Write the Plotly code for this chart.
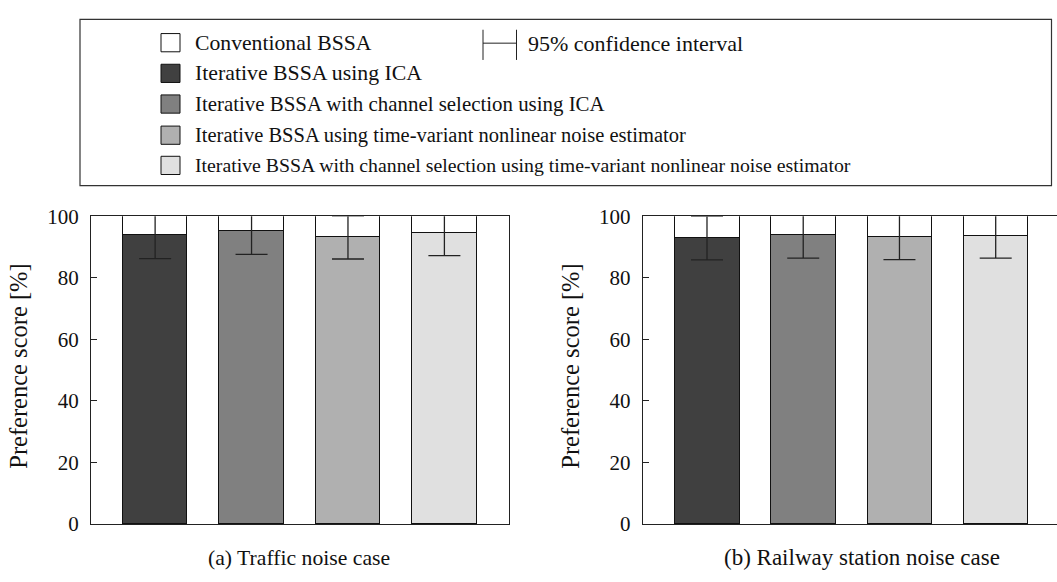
import plotly.graph_objects as go

W, H = 1057, 582

# ---- data ----
methods = [
    "Iterative BSSA using ICA",
    "Iterative BSSA with channel selection using ICA",
    "Iterative BSSA using time-variant nonlinear noise estimator",
    "Iterative BSSA with channel selection using time-variant nonlinear noise estimator",
]
baseline_name = "Conventional BSSA"
ci_name = "95% confidence interval"
traffic_scores = [93.7, 95.0, 93.1, 94.6]
traffic_ci = [7.5, 7.4, 7.0, 7.4]
railway_scores = [92.9, 93.7, 93.1, 93.4]
railway_ci = [7.1, 7.3, 7.2, 7.0]
panel_titles = ["(a) Traffic noise case", "(b) Railway station noise case"]
y_ticks = [0, 20, 40, 60, 80, 100]
y_title = "Preference score [%]"

colors = ["#404040", "#808080", "#b0b0b0", "#e0e0e0"]
FONT = "Liberation Serif"


def px(x):
    return x / W


def py(y):
    return 1 - y / H


fig = go.Figure()
xs = list(range(len(methods)))
panels = [
    (traffic_scores, traffic_ci, "x", "y"),
    (railway_scores, railway_ci, "x2", "y2"),
]
for scores, ci, xa, ya in panels:
    fig.add_trace(go.Bar(
        x=xs, y=scores, width=0.67, xaxis=xa, yaxis=ya,
        marker=dict(color=colors, line=dict(color="#111111", width=1)),
        showlegend=False, hoverinfo="skip",
    ))
    fig.add_trace(go.Bar(
        x=xs, y=[100 - s for s in scores], width=0.67, xaxis=xa, yaxis=ya,
        marker=dict(color="white", line=dict(color="#111111", width=1)),
        showlegend=False, hoverinfo="skip",
    ))
    fig.add_trace(go.Scatter(
        x=xs, y=scores, mode="markers", xaxis=xa, yaxis=ya,
        marker=dict(size=1, opacity=0),
        error_y=dict(type="data", array=ci, symmetric=True, width=16,
                     thickness=1.3, color="#222222"),
        showlegend=False, hoverinfo="skip", cliponaxis=True,
    ))

axis_common = dict(showgrid=False, zeroline=False, showline=True,
                   linecolor="#222222", linewidth=1)
plot_top, plot_bot = 213, 534
fig.update_layout(
    width=W, height=H,
    margin=dict(l=0, r=0, t=0, b=0),
    paper_bgcolor="white", plot_bgcolor="white",
    barmode="stack", bargap=0,
    font=dict(family=FONT, color="#111111", size=20),
    xaxis=dict(domain=[px(91), px(509)], range=[-0.665, 3.67],
               showticklabels=False, ticks="", mirror=True, **axis_common),
    yaxis=dict(domain=[py(plot_bot), py(plot_top)], range=[0, 100],
               tickvals=y_ticks, ticks="inside", ticklen=6, tickcolor="#222222",
               ticklabelstandoff=7,
               tickfont=dict(family=FONT, size=21), mirror=True, **axis_common),
    xaxis2=dict(domain=[px(642.7), 1], range=[-0.668, 3.637], anchor="y2",
                showticklabels=False, ticks="", mirror=True, **axis_common),
    yaxis2=dict(domain=[py(plot_bot), py(plot_top)], range=[0, 100], anchor="x2",
                tickvals=y_ticks, ticks="inside", ticklen=6, tickcolor="#222222",
                ticklabelstandoff=7,
                tickfont=dict(family=FONT, size=21), mirror=False, **axis_common),
)

shapes = []
annotations = []
# legend frame
shapes.append(dict(type="rect", xref="paper", yref="paper",
                   x0=px(80), x1=px(1051.5), y0=py(181), y1=py(7.7),
                   line=dict(color="#333333", width=1.2)))
legend_names = [baseline_name] + methods
legend_colors = ["white"] + colors
row_y = [32, 64, 96, 128.5, 160]
row_size = [21.7, 21.8, 20.9, 20.5, 19.8]
for name, col, ry, fs in zip(legend_names, legend_colors, row_y, row_size):
    shapes.append(dict(type="rect", xref="paper", yref="paper",
                       x0=px(161), x1=px(180), y0=py(ry + 9.5), y1=py(ry - 9.5),
                       fillcolor=col, line=dict(color="#111111", width=1)))
    annotations.append(dict(text=name, xref="paper", yref="paper",
                            x=px(193), y=py(ry), xanchor="left", yanchor="middle",
                            showarrow=False, font=dict(family=FONT, size=fs)))
# confidence-interval glyph
for xx in (483, 516.5):
    shapes.append(dict(type="line", xref="paper", yref="paper",
                       x0=px(xx), x1=px(xx), y0=py(18.5), y1=py(50),
                       line=dict(color="#222222", width=1)))
shapes.append(dict(type="line", xref="paper", yref="paper",
                   x0=px(483), x1=px(516.5), y0=py(32.5), y1=py(32.5),
                   line=dict(color="#222222", width=1)))
annotations.append(dict(text=ci_name, xref="paper", yref="paper",
                        x=px(526), y=py(33), xanchor="left", yanchor="middle",
                        showarrow=False, font=dict(family=FONT, size=22)))
# y titles
for xc in (19, 571):
    annotations.append(dict(text=y_title, xref="paper", yref="paper",
                            x=px(xc), y=py(370), textangle=-90,
                            xanchor="center", yanchor="middle", showarrow=False,
                            font=dict(family=FONT, size=24.5)))
# panel captions
for title, xc, fs in zip(panel_titles, (299, 862), (21.7, 23)):
    annotations.append(dict(text=title, xref="paper", yref="paper",
                            x=px(xc), y=py(569), xanchor="center", yanchor="middle",
                            showarrow=False, font=dict(family=FONT, size=fs)))

fig.update_layout(shapes=shapes, annotations=annotations)
fig.write_html("out.html")
